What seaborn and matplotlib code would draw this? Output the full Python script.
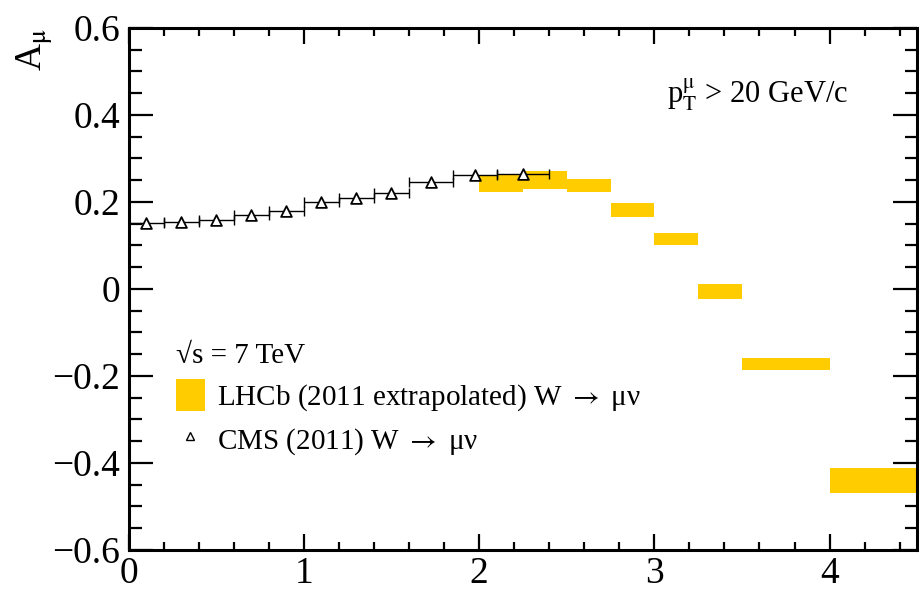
import matplotlib
matplotlib.use("Agg")
import matplotlib.pyplot as plt
from matplotlib.ticker import MultipleLocator
from matplotlib.patches import Patch
from matplotlib.lines import Line2D
import pandas as pd
import seaborn as sns

# CMS (2011) W -> mu nu, pT > 20 GeV/c
cms_lo = [0.0, 0.2, 0.4, 0.6, 0.8, 1.0, 1.2, 1.4, 1.6, 1.85, 2.1]
cms_hi = [0.2, 0.4, 0.6, 0.8, 1.0, 1.2, 1.4, 1.6, 1.85, 2.1, 2.4]
cms_asym = [0.152, 0.153, 0.159, 0.169, 0.178, 0.199, 0.210, 0.221, 0.245, 0.261, 0.264]

# LHCb (2011 extrapolated)
lhcb_lo = [2.0, 2.25, 2.5, 2.75, 3.0, 3.25, 3.5, 4.0]
lhcb_hi = [2.25, 2.5, 2.75, 3.0, 3.25, 3.5, 4.0, 4.5]
lhcb_asym = [0.242, 0.250, 0.238, 0.182, 0.115, -0.006, -0.172, -0.440]
lhcb_err = [0.020, 0.020, 0.015, 0.016, 0.013, 0.017, 0.014, 0.028]

cms = pd.DataFrame({"lo": cms_lo, "hi": cms_hi, "A": cms_asym})
cms["eta"] = (cms["lo"] + cms["hi"]) / 2
cms["xerr"] = (cms["hi"] - cms["lo"]) / 2
lhcb = pd.DataFrame({"lo": lhcb_lo, "hi": lhcb_hi, "A": lhcb_asym, "err": lhcb_err})

sns.set_style("ticks")
plt.rcParams["font.family"] = ["Liberation Serif", "DejaVu Serif"]
plt.rcParams["mathtext.fontset"] = "stix"
plt.rcParams["text.color"] = "black"
plt.rcParams["axes.labelcolor"] = "black"

gold = "#ffcc00"

fig = plt.figure(figsize=(9.19, 5.93), dpi=100)
ax = fig.add_axes([0.140, 0.0725, 0.858, 0.8805])

ax.bar(lhcb["lo"], 2 * lhcb["err"], width=lhcb["hi"] - lhcb["lo"],
       bottom=lhcb["A"] - lhcb["err"], align="edge", color=gold,
       linewidth=0, zorder=2)

ax.errorbar(cms["eta"], cms["A"], xerr=cms["xerr"], fmt="none",
            ecolor="black", elinewidth=1.0, capsize=3.5, capthick=1.0, zorder=3)
sns.scatterplot(data=cms, x="eta", y="A", marker="^", s=60,
                facecolor="white", edgecolor="black", linewidth=1.3,
                ax=ax, zorder=4)

ax.set_xlim(0, 4.5)
ax.set_ylim(-0.6, 0.6)
ax.xaxis.set_major_locator(MultipleLocator(1))
ax.xaxis.set_minor_locator(MultipleLocator(0.2))
ax.yaxis.set_major_locator(MultipleLocator(0.2))
ax.yaxis.set_minor_locator(MultipleLocator(0.05))
ax.set_yticks([-0.6, -0.4, -0.2, 0, 0.2, 0.4, 0.6])
ax.set_yticklabels(["\u22120.6", "\u22120.4", "\u22120.2", "0", "0.2", "0.4", "0.6"])
ax.set_xticks([0, 1, 2, 3, 4])
ax.set_xticklabels(["0", "1", "2", "3", "4"])

for sp in ax.spines.values():
    sp.set_linewidth(2.2)
    sp.set_color("black")
ax.tick_params(axis="both", which="both", direction="in", top=True, right=True,
               width=1.6, color="black", labelsize=27, labelcolor="black")
ax.tick_params(axis="y", which="major", length=17, pad=6)
ax.tick_params(axis="y", which="minor", length=9)
ax.tick_params(axis="x", which="major", length=11.5, pad=5)
ax.tick_params(axis="x", which="minor", length=6)

ax.set_xlabel("")
ax.set_ylabel("A$_{\\mathrm{\u03bc}}$", fontsize=27, loc="top", labelpad=-2)

ax.text(3.07, 0.446, "p$_{\\mathrm{T}}^{\\mathrm{\u03bc}}$ > 20 GeV/c",
        fontsize=22, ha="left", va="center")

handles = [Patch(facecolor=gold, edgecolor="none"),
           Line2D([], [], linestyle="none", marker="^", markersize=5.5,
                  markerfacecolor="white", markeredgecolor="black", markeredgewidth=1.0)]
labels = ["LHCb (2011 extrapolated) W $\\rightarrow$ \u03bc\u03bd",
          "CMS (2011) W $\\rightarrow$ \u03bc\u03bd"]
leg = ax.legend(handles, labels, title="\u221as = 7 TeV", loc="lower left",
                bbox_to_anchor=(0.045, 0.155), frameon=False, fontsize=21,
                title_fontsize=21, alignment="left", handlelength=1.0,
                handleheight=1.3, handletextpad=0.4, labelspacing=0.35,
                borderaxespad=0)

fig.savefig("out.png", dpi=100)
